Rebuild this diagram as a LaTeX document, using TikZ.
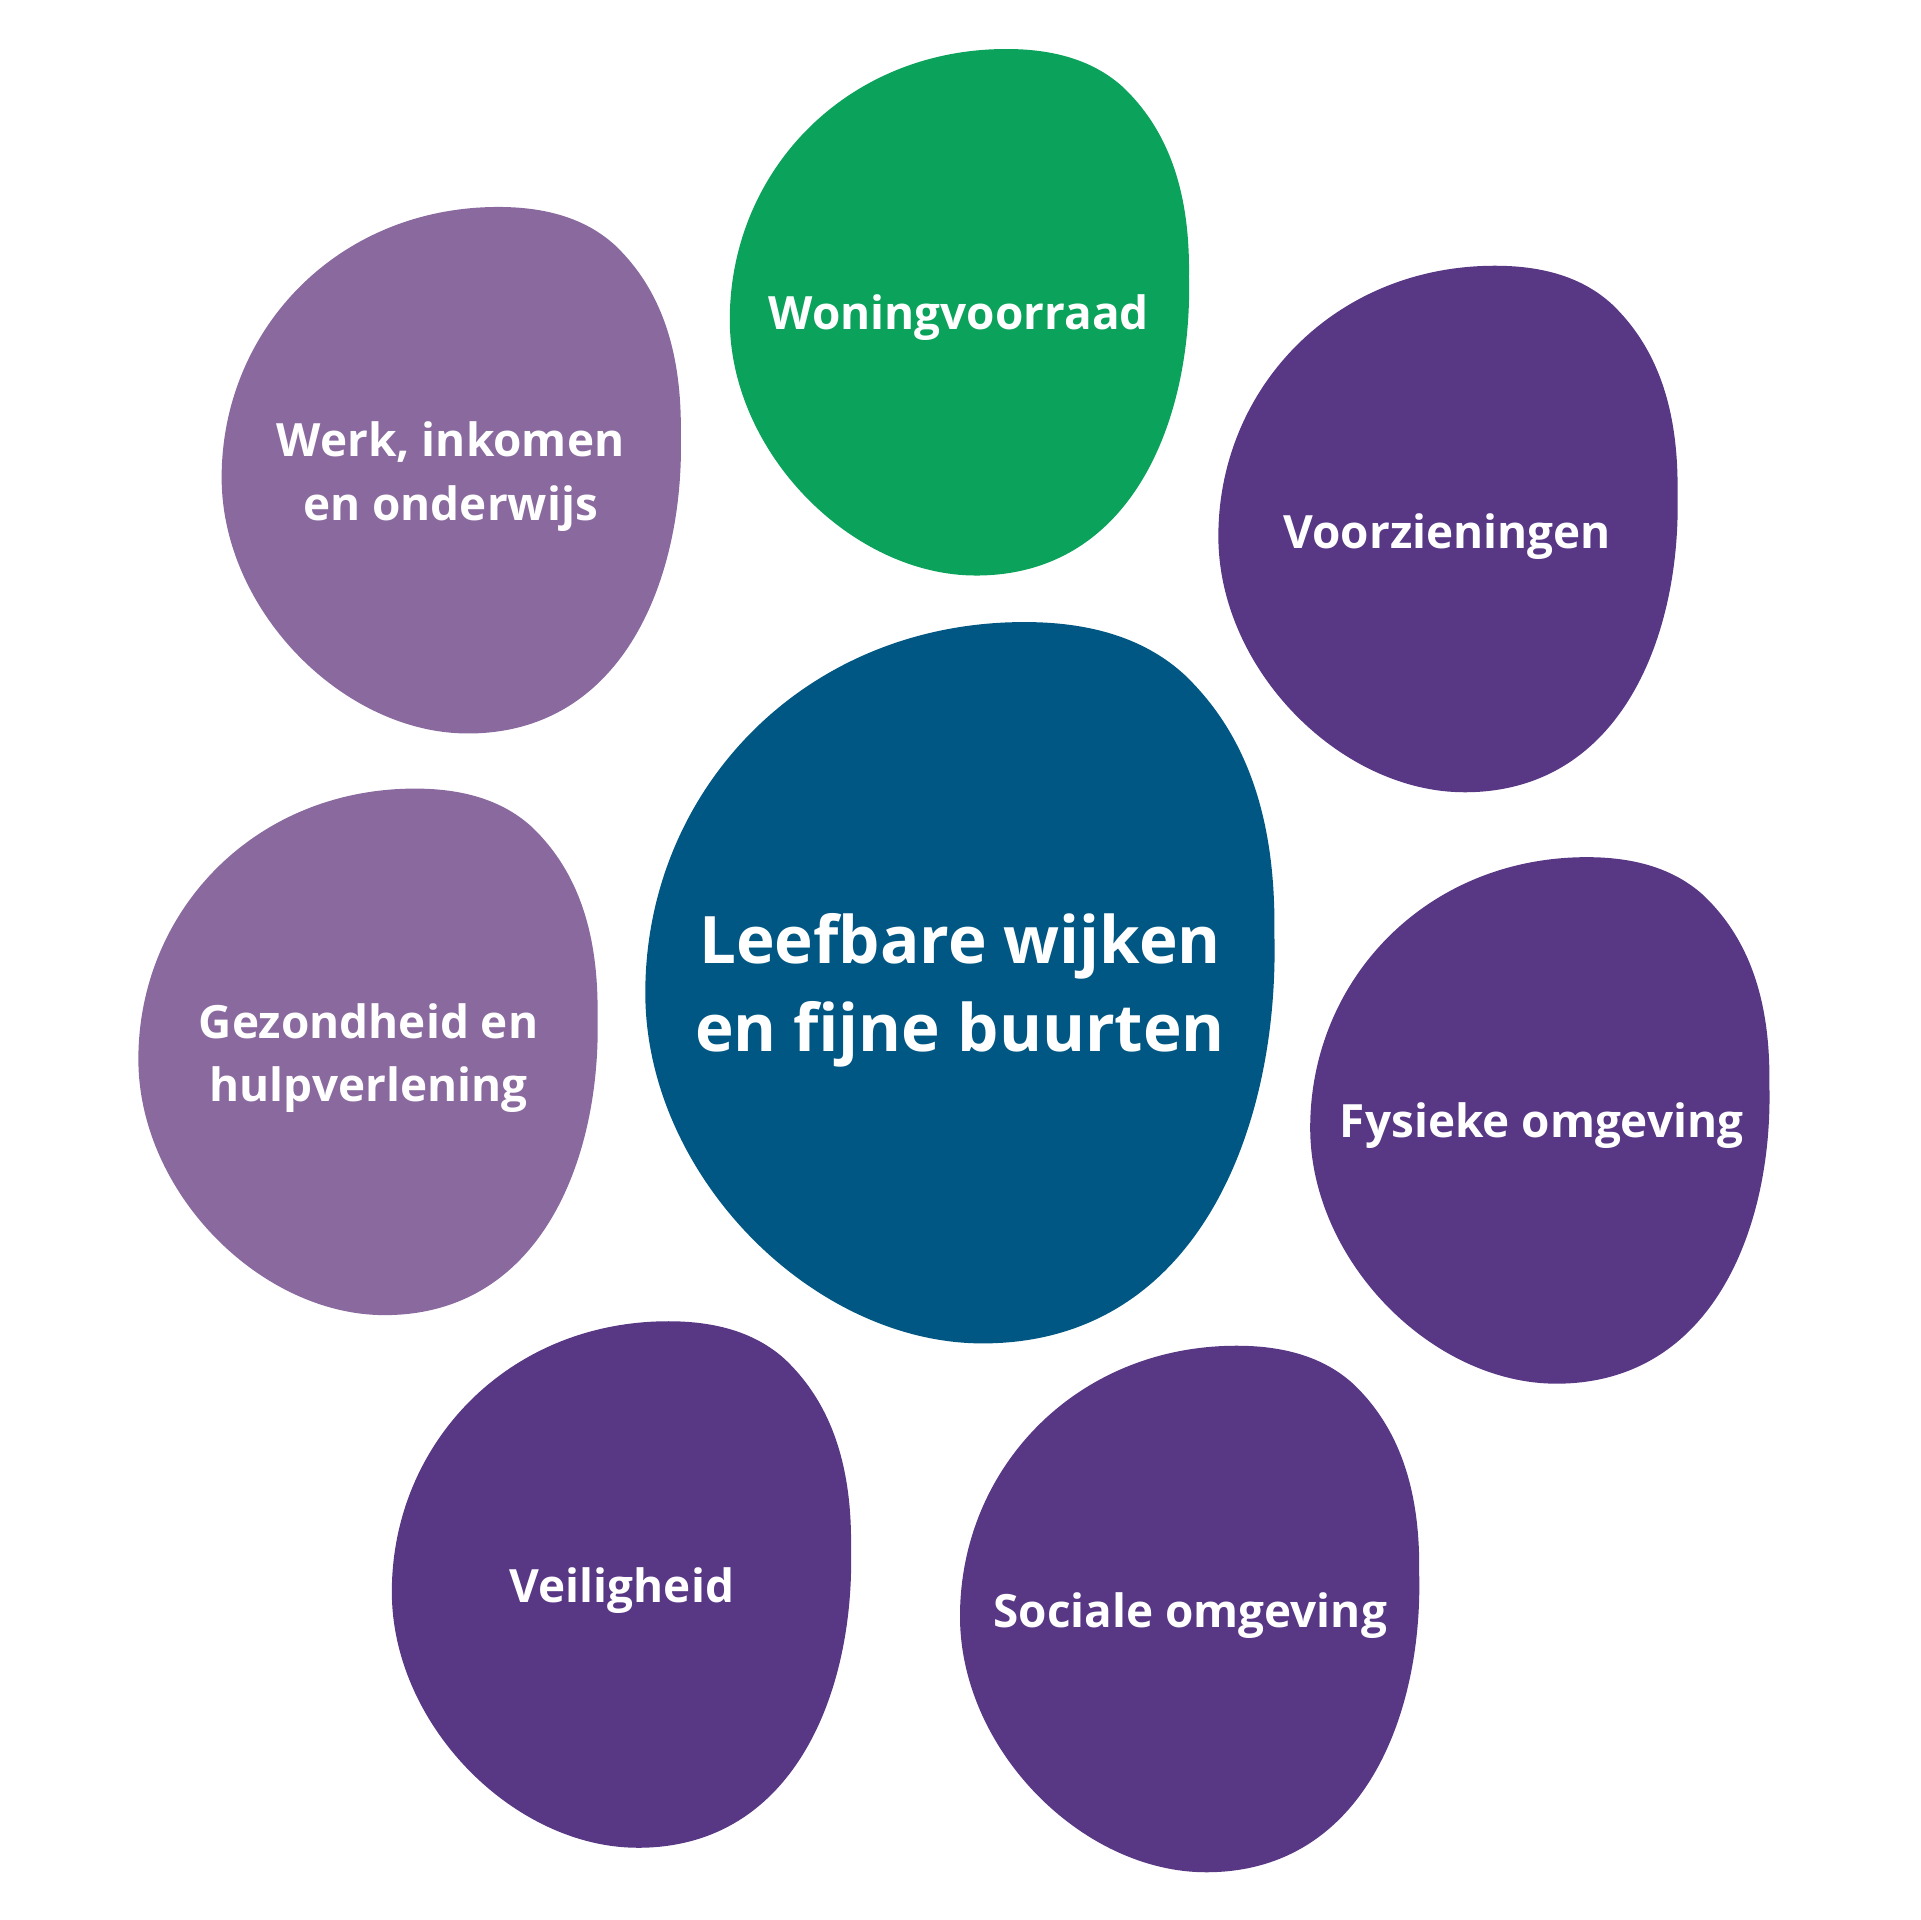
\documentclass[tikz,border=0pt]{standalone}
\usepackage{fontspec}
\setmainfont{Open Sans}

\definecolor{woninggreen}{HTML}{0BA35B}
\definecolor{wijkblue}{HTML}{005783}
\definecolor{darkpurple}{HTML}{583785}
\definecolor{lightpurple}{HTML}{8A6A9E}

\tikzstyle{blobtext} = [text=white, inner sep=0pt, align=center, font=\bfseries\fontsize{10.65}{14.8}\selectfont]
\tikzstyle{maintext} = [text=white, inner sep=0pt, align=center, font=\bfseries\fontsize{15.2}{20.5}\selectfont]

% one pebble: left, top, scale, colour
\newcommand\blob[4]{\fill[#4, shift={(#1,#2)}, scale=#3]
  (226,0) .. controls (270,0) and (300,12) .. (321,31)
  .. controls (360,68) and (376,120) .. (375,186)
  .. controls (378,300) and (330,430) .. (201,430)
  .. controls (100,430) and (0,330) .. (0,221)
  .. controls (0,100) and (95,0) .. (226,0) -- cycle;}

\begin{document}
\begin{tikzpicture}[x=0.01cm, y=-0.01cm]
      \useasboundingbox (0,0) rectangle (1568,1568);

      \blob{596}{40}{1}{woninggreen}
      \blob{181}{169}{1}{lightpurple}
      \blob{995}{217}{1}{darkpurple}
      \blob{113}{644}{1}{lightpurple}
      \blob{527}{508}{1.37}{wijkblue}
      \blob{1070}{700}{1}{darkpurple}
      \blob{320}{1079}{1}{darkpurple}
      \blob{784}{1099}{1}{darkpurple}

      \node[blobtext] (woning) at (783,259) {Woningvoorraad};
      \node[blobtext] (werk) at (368,389) {Werk, inkomen\\en onderwijs};
      \node[blobtext] (voorz) at (1182,438) {Voorzieningen};
      \node[blobtext] (gezond) at (301,864) {Gezondheid en\\hulpverlening};
      \node[maintext] (wijken) at (784,809) {Leefbare wijken\\en fijne buurten};
      \node[blobtext] (fysiek) at (1259,919) {Fysieke omgeving};
      \node[blobtext] (veilig) at (508,1299) {Veiligheid};
      \node[blobtext] (sociaal) at (972,1319) {Sociale omgeving};
\end{tikzpicture}
\end{document}
